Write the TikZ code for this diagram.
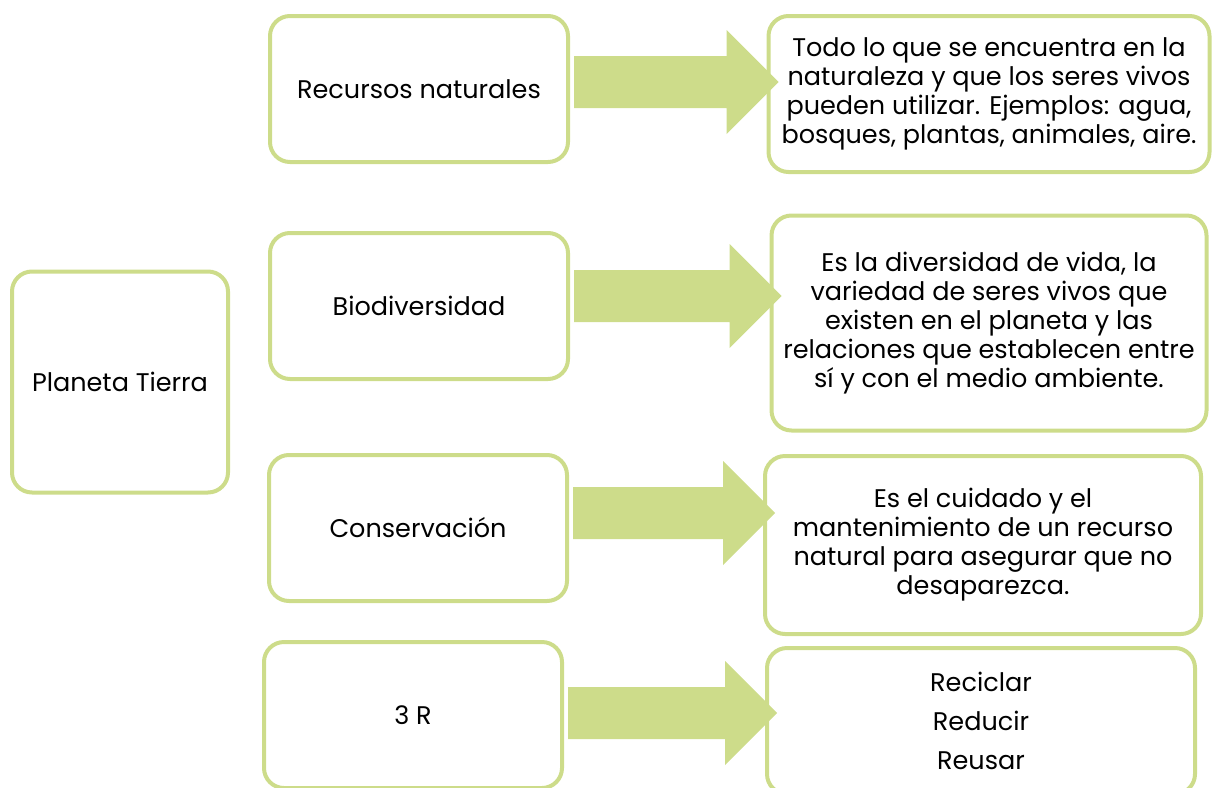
\documentclass[tikz,border=0pt]{standalone}
\usepackage{fontspec}
\setmainfont{Poppins}
\usetikzlibrary{calc}
\definecolor{verde}{RGB}{205,220,138}
\pgfdeclarelayer{fondo}
\pgfsetlayers{fondo,main}
% block arrow from #1 to #2, centred at height #3
\newcommand{\flecha}[3]{%
  \fill[verde] let \p1=([xshift=4pt]#1.east), \p2=([xshift=12pt]#2.west) in
    (\x1,{(26-#3)*1pt}) -- ({\x2-52pt},{(26-#3)*1pt}) -- ({\x2-52pt},{(52-#3)*1pt})
    -- (\x2,{-#3*1pt}) -- ({\x2-52pt},{(-52-#3)*1pt}) -- ({\x2-52pt},{(-26-#3)*1pt})
    -- (\x1,{(-26-#3)*1pt}) -- cycle;}

\begin{document}
\begin{tikzpicture}[
    x=1pt, y=-1pt,
    caja/.style={draw=verde, line width=4pt, rounded corners=20pt,
      align=center, font=\fontsize{25.5}{29}\selectfont},
    tema/.style={caja, minimum width=298pt, minimum height=146pt},
  ]
    \useasboundingbox (0,0) rectangle (1214,787);
    % central box
    \node[caja, minimum width=216pt, minimum height=221pt] (tierra) at (120,382) {Planeta Tierra};
    % topics
    \node[tema] (recursos) at (419,89)  {Recursos naturales};
    \node[tema] (bio)      at (419,306) {Biodiversidad};
    \node[tema] (cons)     at (418,528) {Conservación};
    \node[tema] (tresr)    at (413,715) {3 R};
    % descriptions
    \node[caja, minimum width=441pt, minimum height=156pt] (drecursos) at (989,94)
      {Todo lo que se encuentra en la\\naturaleza y que los seres vivos\\pueden utilizar. Ejemplos: agua,\\bosques, plantas, animales, aire.};
    \node[caja, minimum width=435pt, minimum height=215pt] (dbio) at (989,323)
      {Es la diversidad de vida, la\\variedad de seres vivos que\\existen en el planeta y las\\relaciones que establecen entre\\sí y con el medio ambiente.};
    \node[caja, minimum width=436pt, minimum height=178pt] (dcons) at (983,545)
      {Es el cuidado y el\\mantenimiento de un recurso\\natural para asegurar que no\\desaparezca.};
    \node[caja, minimum width=428pt, minimum height=146pt] (dtresr) at (981,721)
      {Reciclar\\[10pt]Reducir\\[10pt]Reusar};
    % arrows behind the boxes
    \begin{pgfonlayer}{fondo}
      \flecha{recursos}{drecursos}{82}
      \flecha{bio}{dbio}{296}
      \flecha{cons}{dcons}{513}
      \flecha{tresr}{dtresr}{713}
    \end{pgfonlayer}
  \end{tikzpicture}
\end{document}
